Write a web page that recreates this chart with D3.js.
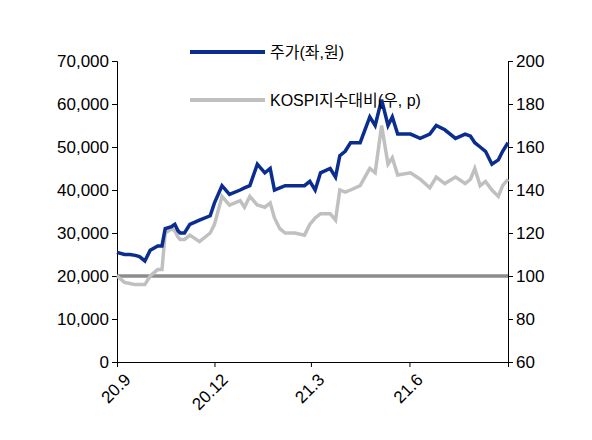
<!DOCTYPE html><html><head><meta charset="utf-8"><script src="https://cdn.jsdelivr.net/npm/d3@7"></script>
<style>body{margin:0;background:#fff}text{font-family:"Liberation Sans","Noto Sans CJK KR",sans-serif}</style></head><body><svg id="c" width="592" height="440"></svg><script>
const dates=["2020-09-01","2020-09-08","2020-09-13","2020-09-18","2020-09-22","2020-09-27","2020-10-02","2020-10-09","2020-10-13","2020-10-16","2020-10-22","2020-10-25","2020-10-28","2020-10-30","2020-11-03","2020-11-08","2020-11-17","2020-11-27","2020-12-01","2020-12-08","2020-12-15","2020-12-25","2020-12-29","2021-01-03","2021-01-10","2021-01-17","2021-01-22","2021-01-26","2021-01-31","2021-02-05","2021-02-14","2021-02-23","2021-02-28","2021-03-05","2021-03-10","2021-03-19","2021-03-24","2021-03-28","2021-04-02","2021-04-07","2021-04-16","2021-04-25","2021-04-30","2021-05-06","2021-05-12","2021-05-16","2021-05-21","2021-06-02","2021-06-11","2021-06-20","2021-06-26","2021-07-04","2021-07-14","2021-07-23","2021-07-28","2021-08-01","2021-08-06","2021-08-11","2021-08-17","2021-08-23","2021-08-27","2021-09-01"];
const price=[25500,25000,25000,24800,24500,23500,26000,27000,27000,31000,31500,32000,30500,30000,30000,32000,33000,34000,37000,41000,39000,40000,40500,41000,46000,44000,45000,40000,40500,41000,41000,41000,42000,40000,44000,45000,43000,48000,49000,51000,51000,57000,55000,61000,55000,57000,53000,53000,52000,53000,55000,54000,52000,53000,52500,51000,50000,49000,46000,47000,49000,51000];
const kospi=[100,97,96.5,96,96,96,100,103,103,120,122,121,118,117,117,119,116,120,124,137,133,135,132,137,133,132,134,127,122,120,120,119,124,127,129,129,126,140,139,140,142,150,148,170,152,155,147,148,145,141,146,143,146,143,145,150,142,144,140,137,142,145];
const leftTicks=[0,10000,20000,30000,40000,50000,60000,70000];
const rightTicks=[60,80,100,120,140,160,180,200];
const xTicks=["2020-09-01","2020-12-01","2021-03-01","2021-06-01","2021-09-01"];
const xLabels=["20.9","20.12","21.3","21.6",""];
const pd=d3.timeParse("%Y-%m-%d");
const svg=d3.select("#c");
const L=117,R=508,T=61,B=362;
const x=d3.scaleTime().domain([pd("2020-09-01"),pd("2021-09-01")]).range([L,R]);
const yl=d3.scaleLinear().domain([0,70000]).range([B,T]);
const yr=d3.scaleLinear().domain([60,200]).range([B,T]);
const fmt=d3.format(",");
const gl=svg.append("g").attr("transform",`translate(${L},0)`).call(d3.axisLeft(yl).tickValues(leftTicks).tickFormat(fmt).tickSize(5));
const gr=svg.append("g").attr("transform",`translate(${R},0)`).call(d3.axisRight(yr).tickValues(rightTicks).tickSize(5));
const gx=svg.append("g").attr("transform",`translate(0,${B})`).call(d3.axisBottom(x).tickValues(xTicks.map(pd)).tickFormat((d,i)=>xLabels[i]).tickSize(5));
[gl,gr,gx].forEach(g=>{g.selectAll("text").attr("font-size",17).attr("fill","#000");g.selectAll("path,line").attr("stroke","#000");});
gl.selectAll("text").attr("x",-8);gr.selectAll("text").attr("x",8);
gx.selectAll("text").attr("transform","rotate(-45)").attr("text-anchor","end").attr("dx","-0.2em").attr("dy","0.9em");
svg.append("line").attr("x1",L).attr("x2",R).attr("y1",yr(100)).attr("y2",yr(100)).attr("stroke","#8c8c8c").attr("stroke-width",3.5);
svg.append("path").datum(kospi).attr("fill","none").attr("stroke","#c0c0c0").attr("stroke-width",3.5)
 .attr("d",d3.line().x((d,i)=>x(pd(dates[i]))).y(d=>yr(d)));
svg.append("path").datum(price).attr("fill","none").attr("stroke","#0a2d8f").attr("stroke-width",3.5)
 .attr("d",d3.line().x((d,i)=>x(pd(dates[i]))).y(d=>yl(d)));
const lg=[{t:"주가(좌,원)",c:"#0a2d8f",y:52},{t:"KOSPI지수대비(우, p)",c:"#c0c0c0",y:100}];
lg.forEach(d=>{svg.append("line").attr("x1",190).attr("x2",265).attr("y1",d.y).attr("y2",d.y).attr("stroke",d.c).attr("stroke-width",4);
 svg.append("text").attr("x",270).attr("y",d.y+6).attr("font-size",16).text(d.t);});
</script></body></html>
